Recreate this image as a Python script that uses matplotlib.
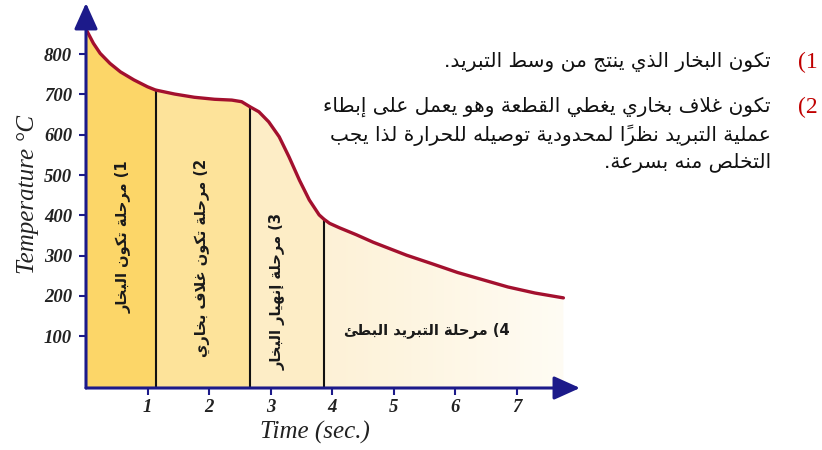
import matplotlib
matplotlib.use('Agg')
import matplotlib.pyplot as plt
from matplotlib.colors import LinearSegmentedColormap
import numpy as np

# cooling curve
time_s = [0, 0.12, 0.23, 0.39, 0.56, 0.78, 1.0, 1.13, 1.44, 1.76, 2.09, 2.37,
          2.53, 2.67, 2.81, 2.97, 3.14, 3.30, 3.47, 3.63, 3.79, 3.87, 3.96,
          4.12, 4.39, 4.67, 5.21, 5.62, 6.04, 6.45, 6.86, 7.3, 7.76]
temp_c = [862, 827, 802, 777, 756, 736, 719, 711, 701, 693, 688, 686,
          682, 669, 657, 632, 595, 545, 487, 438, 401, 390, 380,
          369, 352, 333, 301, 280, 258, 240, 222, 207, 195]
stage_ends = [1.13, 2.67, 3.87]
x_ticks = [1, 2, 3, 4, 5, 6, 7]
y_ticks = [100, 200, 300, 400, 500, 600, 700, 800]
stage_labels = ['مرحلة تكون البخار', 'مرحلة تكون غلاف بخاري',
                'مرحلة إنهيار البخار', 'مرحلة التبريد البطئ']
note_lines = [
    ['تكون البخار الذي ينتج من وسط التبريد.'],
    ['تكون غلاف بخاري يغطي القطعة وهو يعمل على إبطاء',
     'عملية التبريد نظراً لمحدودية توصيله للحرارة لذا يجب',
     'التخلص منه بسرعة.'],
]

# --- tiny arabic shaper (matplotlib has no shaping / bidi) ---
JOIN = {'ء': (0xFE80, 'U'), 'آ': (0xFE81, 'R'), 'أ': (0xFE83, 'R'), 'ؤ': (0xFE85, 'R'),
        'إ': (0xFE87, 'R'), 'ئ': (0xFE89, 'D'), 'ا': (0xFE8D, 'R'), 'ب': (0xFE8F, 'D'),
        'ة': (0xFE93, 'R'), 'ت': (0xFE95, 'D'), 'ث': (0xFE99, 'D'), 'ج': (0xFE9D, 'D'),
        'ح': (0xFEA1, 'D'), 'خ': (0xFEA5, 'D'), 'د': (0xFEA9, 'R'), 'ذ': (0xFEAB, 'R'),
        'ر': (0xFEAD, 'R'), 'ز': (0xFEAF, 'R'), 'س': (0xFEB1, 'D'), 'ش': (0xFEB5, 'D'),
        'ص': (0xFEB9, 'D'), 'ض': (0xFEBD, 'D'), 'ط': (0xFEC1, 'D'), 'ظ': (0xFEC5, 'D'),
        'ع': (0xFEC9, 'D'), 'غ': (0xFECD, 'D'), 'ف': (0xFED1, 'D'), 'ق': (0xFED5, 'D'),
        'ك': (0xFED9, 'D'), 'ل': (0xFEDD, 'D'), 'م': (0xFEE1, 'D'), 'ن': (0xFEE5, 'D'),
        'ه': (0xFEE9, 'D'), 'و': (0xFEED, 'R'), 'ى': (0xFEEF, 'R'), 'ي': (0xFEF1, 'D')}
LAM_ALEF = {'آ': 0xFEF5, 'أ': 0xFEF7, 'إ': 0xFEF9, 'ا': 0xFEFB}


def shape(s):
    units = []
    i = 0
    while i < len(s):
        c = s[i]
        if '\u064b' <= c <= '\u0652' and units:
            units[-1][2] += c
        elif c == 'ل' and i + 1 < len(s) and s[i + 1] in LAM_ALEF:
            units.append([LAM_ALEF[s[i + 1]], 'R', ''])
            i += 1
        elif c in JOIN:
            units.append([JOIN[c][0], JOIN[c][1], ''])
        else:
            units.append([c, 'N', ''])
        i += 1
    out = []
    for k, (base, t, marks) in enumerate(units):
        if t == 'N':
            out.append(base + marks)
            continue
        prev = k > 0 and units[k - 1][1] == 'D' and t != 'U'
        nxt = t == 'D' and k + 1 < len(units) and units[k + 1][1] in 'DR'
        off = 3 if (prev and nxt) else 1 if prev else 2 if nxt else 0
        out.append(chr(base + off) + marks)
    return ''.join(reversed(out))


navy = '#1c1a8a'
curve_red = '#a3102e'
fills = ['#fcd668', '#fde39a', '#fdedc6']

W, H = 822, 450
fig = plt.figure(figsize=(W / 100, H / 100), dpi=100)
# axes box in pixels: x from 86 to 580, y from 388 (bottom) to 3 (top)
ax = fig.add_axes([86 / W, 1 - 388 / H, (580 - 86) / W, (388 - 3) / H])
ybot, ytop = -28.7, 927
ax.set_xlim(0, 8.03)
ax.set_ylim(ybot, ytop)
ax.patch.set_alpha(0)
for sp in ax.spines.values():
    sp.set_visible(False)

t = np.array(time_s)
v = np.array(temp_c)
idx = [0] + [int(np.argmin(abs(t - e))) for e in stage_ends] + [len(t) - 1]
for k in range(3):
    a, b = idx[k], idx[k + 1]
    ax.fill_between(t[a:b + 1], v[a:b + 1], ybot, color=fills[k], lw=0)
# last stage: fading fill
a = idx[3]
poly = ax.fill_between(t[a:], v[a:], ybot, color='none', lw=0)
grad = np.linspace(0, 1, 256).reshape(1, -1)
cm = LinearSegmentedColormap.from_list('f', ['#fdf1d6', '#fffcf4'])
im = ax.imshow(grad, cmap=cm, extent=[t[a], t[-1], ybot, v[a]], aspect='auto', zorder=1)
im.set_clip_path(poly.get_paths()[0], transform=ax.transData)

for e in stage_ends:
    ax.plot([e, e], [ybot, np.interp(e, t, v)], color='#111111', lw=1.5, zorder=3)

ax.plot(t, v, color=curve_red, lw=2.4, solid_capstyle='round', solid_joinstyle='round', zorder=4)

# axes with arrow heads
arr = dict(arrowstyle='-|>,head_length=0.8,head_width=0.36', color=navy, lw=2.2,
           mutation_scale=20, shrinkA=0, shrinkB=0)
ax.annotate('', xy=(8.03, ybot), xytext=(0, ybot), arrowprops=arr, annotation_clip=False, zorder=5)
ax.annotate('', xy=(0, ytop), xytext=(0, ybot), arrowprops=arr, annotation_clip=False, zorder=5)

tickfont = dict(family='Liberation Serif', weight='bold', style='italic', size=13.5)
ax.set_xticks(x_ticks)
ax.set_xticklabels([str(x) for x in x_ticks], fontdict=tickfont, color='#222222')
ax.set_yticks(y_ticks)
ax.set_yticklabels([str(y) for y in y_ticks], fontdict=tickfont, color='#222222')
ax.tick_params(axis='x', length=5, width=1.5, color=navy, pad=3)
ax.tick_params(axis='y', length=5, width=1.5, color=navy, pad=5)

fig.text(28 / W, 1 - 195 / H, 'Temperature °C', rotation=90, ha='center', va='center',
         family='Liberation Serif', style='italic', size=18, color='#222222')
fig.text(315 / W, 1 - 432 / H, 'Time (sec.)', ha='center', va='center',
         family='Liberation Serif', style='italic', size=18, color='#222222')

# stage labels
lab = dict(family='DejaVu Sans', weight='bold', size=10.5, color='#1a1a1a', zorder=6)
pos = [(0.61, 347), (1.88, 294), (3.11, 210)]
for k in range(3):
    ax.text(pos[k][0], pos[k][1], shape(stage_labels[k]) + ' (%d' % (k + 1),
            rotation=90, ha='center', va='center', **lab)
ax.text(5.54, 115, shape(stage_labels[3]) + ' (4', ha='center', va='center', **lab)

# notes on the right
ys = [[62], [107, 135, 162]]
for k in range(2):
    fig.text(808 / W, 1 - ys[k][0] / H, '(%d' % (k + 1), ha='center', va='center',
             family='Liberation Serif', size=17, color='#c00000')
    for line, y in zip(note_lines[k], ys[k]):
        fig.text(771 / W, 1 - y / H, shape(line), ha='right', va='center',
                 family='DejaVu Sans', size=14.5, color='#111111')

fig.savefig('out.png', dpi=100)
